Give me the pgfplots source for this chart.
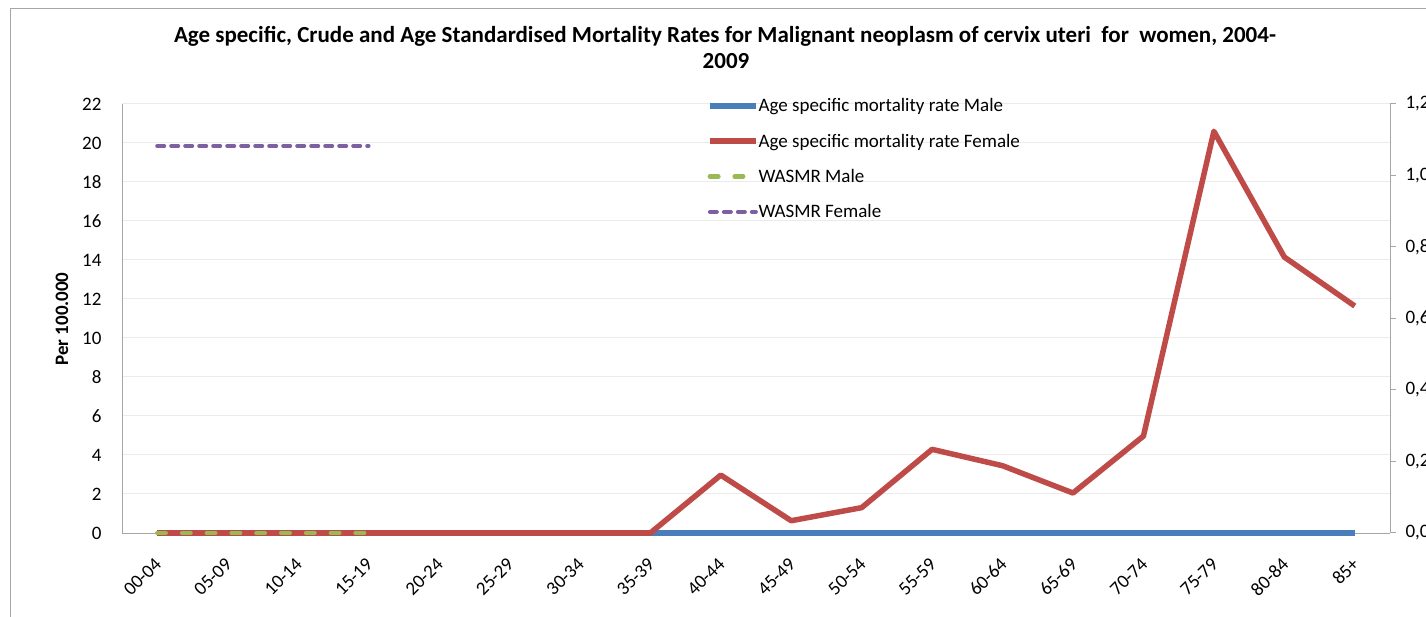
\documentclass[border=0pt]{standalone}
\usepackage{pgfplots}
\pgfplotsset{compat=1.18}
\usepackage{fontspec}
\setmainfont{Carlito}
\definecolor{cblue}{HTML}{4A7EBB}
\definecolor{cred}{HTML}{BE4B48}
\definecolor{cgreen}{HTML}{98B954}
\definecolor{cpurple}{HTML}{7D60A0}
\definecolor{axgray}{HTML}{A6A6A6}
\definecolor{gridgray}{HTML}{EBEBEB}
\newcommand{\fs}{\fontsize{19bp}{23bp}\selectfont}
\begin{document}
\begin{tikzpicture}
% outer chart frame (partly visible)
\draw[axgray, line width=1bp] (10.5bp,0bp) -- (10.5bp,608.5bp) -- (1426bp,608.5bp);
\begin{axis}[
  at={(122bp,84bp)}, anchor=south west,
  width=1268bp, height=429bp, scale only axis,
  xmin=-0.5, xmax=17.5, ymin=0, ymax=22,
  clip=false,
  xtick={0,...,17},
  xticklabels={00-04,05-09,10-14,15-19,20-24,25-29,30-34,35-39,40-44,45-49,50-54,55-59,60-64,65-69,70-74,75-79,80-84,85+},
  ytick={0,2,...,22},
  ymajorgrids, grid style={gridgray, line width=1bp},
  axis x line*=bottom, axis y line*=left,
  axis line style={axgray, line width=1bp, -},
  major tick length=0pt,
  /pgf/number format/assume math mode=true,
  tick label style={font=\fs},
  yticklabel style={anchor=east, xshift=-17bp},
  xticklabel style={xshift=1bp, yshift=-28bp, anchor=east, rotate=45, inner sep=0pt},
  legend style={at={(0.4613,1.013)}, anchor=north west, draw=none, fill=none,
    font=\fs, row sep=20.6bp, inner sep=0pt,
    nodes={inner sep=0pt, anchor=west}},
  legend cell align=left,
  legend image code/.code={\draw[#1] (0bp,0bp) -- (46bp,0bp);},
]
\addplot[cblue, line width=5.5bp, line join=round] coordinates {
 (0,0) (1,0) (2,0) (3,0) (4,0) (5,0) (6,0) (7,0) (8,0) (9,0) (10,0) (11,0) (12,0) (13,0) (14,0) (15,0) (16,0) (17,0)};
\addlegendentry{Age specific mortality rate Male}
\addplot[cred, line width=5.5bp, line join=round] coordinates {
 (0,0) (1,0) (2,0) (3,0) (4,0) (5,0) (6,0) (7,0) (8,2.97) (9,0.63) (10,1.30) (11,4.29) (12,3.45) (13,2.05) (14,4.97) (15,20.6) (16,14.15) (17,11.64)};
\addlegendentry{Age specific mortality rate Female}
\addplot[cgreen, line width=4.5bp, line cap=round, dash pattern=on 8.5bp off 16.3bp] coordinates {
 (0,0) (1,0) (2,0) (3,0)};
\addlegendentry{WASMR Male}
\addplot[cpurple, line width=4bp, line cap=round, dash pattern=on 7bp off 7bp] coordinates {
 (0,19.85) (1,19.85) (2,19.85) (3,19.85)};
\addlegendentry{WASMR Female}
\end{axis}
\begin{axis}[
  at={(122bp,84bp)}, anchor=south west,
  width=1268bp, height=429bp, scale only axis,
  xmin=-0.5, xmax=17.5, ymin=0, ymax=1.2,
  axis x line=none, axis y line*=right,
  axis line style={axgray, line width=1bp, -},
  ytick={0,0.2,0.4,0.6,0.8,1.0,1.2},
  tick align=outside, major tick length=6bp,
  ytick style={axgray, line width=1bp},
  /pgf/number format/assume math mode=true,
  yticklabel style={font=\fs, anchor=west, xshift=6bp,
    /pgf/number format/.cd, fixed, fixed zerofill, precision=1, use comma},
]
\addplot[draw=none] coordinates {(0,0)};
\end{axis}
\node[anchor=base, font=\bfseries\fontsize{23bp}{27bp}\selectfont] at (725bp,574bp)
  {Age specific, Crude and Age Standardised Mortality Rates for Malignant neoplasm of cervix uteri~ for~ women, 2004-};
\node[anchor=base, font=\bfseries\fontsize{23bp}{27bp}\selectfont] at (726bp,548bp) {2009};
\node[anchor=base, rotate=90, font=\bfseries\fontsize{19bp}{23bp}\selectfont] at (68bp,298bp) {Per 100.000};
\pgfresetboundingbox
\path[use as bounding box] (0,0) rectangle (1426bp,617bp);
\end{tikzpicture}
\end{document}
